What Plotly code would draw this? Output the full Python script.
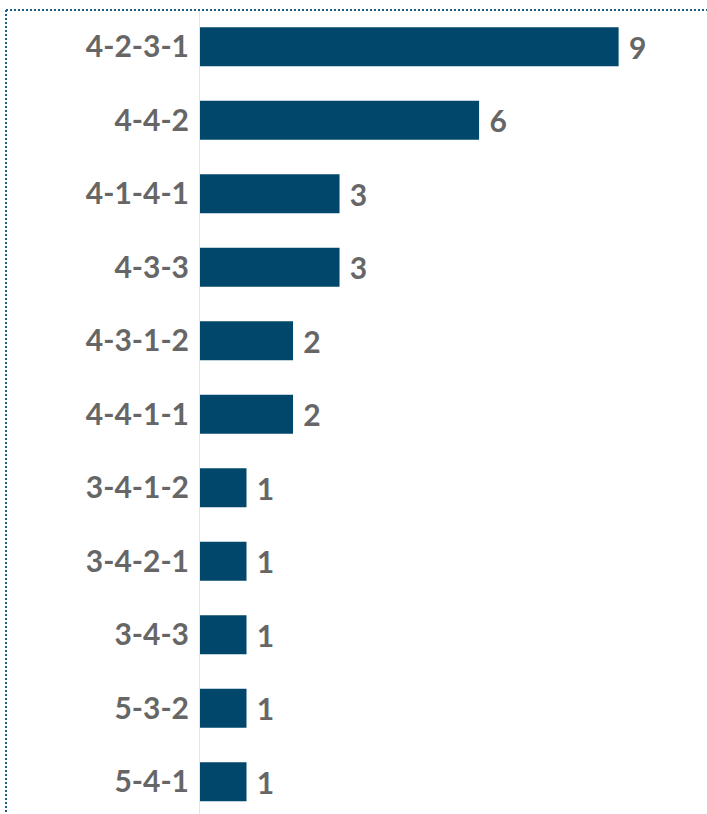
import plotly.graph_objects as go

formations = ["4-2-3-1", "4-4-2", "4-1-4-1", "4-3-3", "4-3-1-2", "4-4-1-1",
              "3-4-1-2", "3-4-2-1", "3-4-3", "5-3-2", "5-4-1"]
counts = [9, 6, 3, 3, 2, 2, 1, 1, 1, 1, 1]

BAR = "#00476b"
TXT = "#666666"
BORDER = "#1a5f84"

fig = go.Figure(go.Bar(
    x=counts, y=formations, orientation="h",
    marker=dict(color=BAR, line=dict(width=0)),
    width=0.53,
    text=counts, textposition="outside",
    texttemplate=" %{text}",
    textfont=dict(family="Lato", size=30, color=TXT, weight="bold"),
    cliponaxis=False,
    hoverinfo="skip",
))

fig.update_layout(
    width=707, height=814,
    margin=dict(l=200, r=0, t=10, b=0),
    paper_bgcolor="white", plot_bgcolor="white",
    showlegend=False,
    font=dict(family="Lato"),
    xaxis=dict(range=[0, 10.9], showgrid=False, zeroline=False,
               showticklabels=False, showline=False, fixedrange=True),
    yaxis=dict(type="category", categoryorder="array", categoryarray=formations,
               range=[10.44, -0.5], showgrid=False, zeroline=False,
               showline=True, linecolor="#e3e3e3", linewidth=1,
               ticks="", ticklabelstandoff=4,
               tickfont=dict(family="Lato", size=30, color=TXT, weight="bold"),
               fixedrange=True),
    shapes=[
        dict(type="line", xref="paper", yref="paper",
             x0=-0.3826, x1=1.0, y0=1.0, y1=1.0,
             line=dict(color=BORDER, width=2, dash="2px,2px")),
        dict(type="line", xref="paper", yref="paper",
             x0=-0.3826, x1=-0.3826, y0=1.0, y1=-0.02,
             line=dict(color=BORDER, width=2, dash="2px,2px")),
    ],
)

fig.write_html("out.html", config={"displayModeBar": False},
               post_script="document.body.style.margin='0';document.body.style.overflow='hidden';")
